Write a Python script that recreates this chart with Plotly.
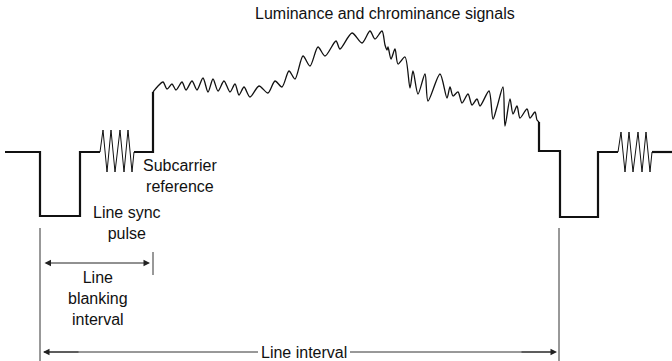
import plotly.graph_objects as go

# ---- data (image-space units: x to the right, y downward) ----
left_x = [5, 40, 40, 80, 80, 100]
left_y = [152, 152, 216, 216, 152, 152]

burst1_x = [100, 103, 107, 111, 115, 120, 124, 128, 132, 134]
burst1_y = [152, 130, 172, 130, 172, 130, 172, 130, 172, 152]

porch_x = [134, 153, 153]
porch_y = [152, 152, 92]

wig_x = [153, 158, 163, 167, 172, 176, 182, 186, 192, 197, 203, 208, 213, 218, 224, 230, 235, 239, 244, 250,
         259, 268, 275, 282, 289, 295, 303, 310, 318, 325, 336, 340, 352, 362, 370, 375, 382, 385, 387, 388,
         391, 395, 398, 405, 410, 413, 418, 425, 428, 440, 447, 450, 453, 458, 462, 468, 472, 477, 480, 489,
         493, 497, 503, 505, 510, 513, 517, 520, 527, 530, 535, 537, 539]
wig_y = [92, 86, 82, 89, 84, 90, 82, 90, 81, 90, 78, 92, 79, 91, 81, 92, 84, 95, 87, 97,
         86, 93, 81, 87, 71, 79, 56, 66, 47, 56, 41, 49, 33, 43, 31, 39, 31, 45, 50, 47,
         59, 49, 64, 57, 88, 71, 94, 74, 101, 74, 98, 87, 96, 92, 103, 94, 105, 99, 106, 91,
         119, 107, 87, 126, 99, 114, 106, 118, 109, 118, 112, 120, 122]

right_x = [539, 539, 560, 560, 598, 598, 618]
right_y = [122, 151, 151, 217, 217, 152, 152]

burst2_x = [618, 621, 625, 629, 633, 638, 642, 646, 650, 652]
burst2_y = [152, 132, 172, 132, 172, 132, 172, 132, 172, 152]

tail_x = [652, 672]
tail_y = [152, 152]

labels = ["Luminance and chrominance signals", "Subcarrier<br>reference", "Line sync<br>pulse",
          "Line<br>blanking<br>interval", "Line interval"]
label_x = [385, 180, 127, 98, 304]
label_y = [13, 176, 223, 298, 352]

INK = "#111111"
fig = go.Figure()

def seg(xs, ys, w, shape="linear"):
    fig.add_trace(go.Scatter(x=xs, y=ys, mode="lines", hoverinfo="skip",
                             line=dict(color=INK, width=w, shape=shape, smoothing=0.8 if shape == "spline" else None)))

seg(left_x, left_y, 2.2)
seg(burst1_x, burst1_y, 1)
seg(porch_x, porch_y, 2.2)
seg(wig_x, wig_y, 1.3, "spline")
seg(right_x, right_y, 2.2)
seg(burst2_x, burst2_y, 1)
seg(tail_x, tail_y, 2.2)

# guide lines
for (x0, y0, x1, y1) in [(40, 228, 40, 361), (559, 228, 559, 361), (153, 252, 153, 275),
                         (258, 352, 44, 352), (350, 352, 555, 352)]:
    fig.add_shape(type="line", x0=x0, y0=y0, x1=x1, y1=y1, line=dict(color="#333333", width=1))

# arrow heads
def arrow(xh, yh, xt, yt, side="end"):
    fig.add_annotation(x=xh, y=yh, ax=xt, ay=yt, xref="x", yref="y", axref="x", ayref="y",
                       text="", showarrow=True, arrowhead=2, arrowsize=1.3, arrowwidth=1,
                       arrowcolor="#222222", arrowside=side, standoff=0, startstandoff=0)

arrow(150, 263, 43, 263, "end+start")
arrow(43, 352, 80, 352)
arrow(557, 352, 520, 352)

for t, x, y in zip(labels, label_x, label_y):
    fig.add_annotation(x=x, y=y, xref="x", yref="y", text=t, showarrow=False,
                       font=dict(family="Liberation Sans", size=16, color=INK),
                       align="center", xanchor="center", yanchor="middle",
                       bgcolor="white" if t == "Line interval" else None)

fig.update_xaxes(range=[0, 672], visible=False, fixedrange=True)
fig.update_yaxes(range=[361, 0], visible=False, fixedrange=True)
fig.update_layout(width=672, height=361, margin=dict(l=0, r=0, t=0, b=0),
                  paper_bgcolor="white", plot_bgcolor="white", showlegend=False)
fig.write_html("out.html", config={"displayModeBar": False},
               post_script="document.body.style.margin='0';document.body.style.overflow='hidden';")
